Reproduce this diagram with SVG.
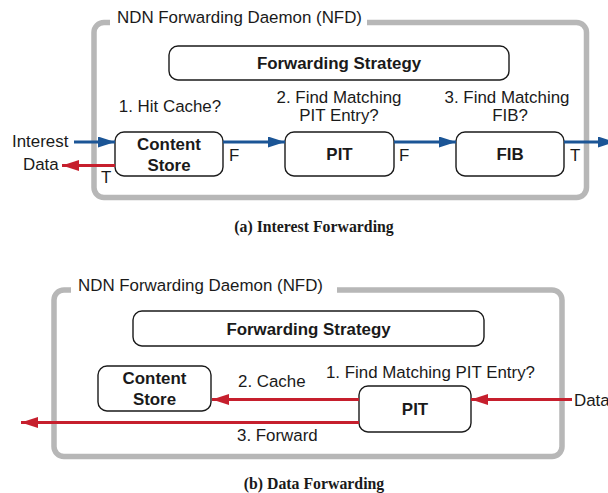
<svg xmlns="http://www.w3.org/2000/svg" width="608" height="493" viewBox="0 0 608 493">
<style>
.frame{fill:none;stroke:#b7b7b7;stroke-width:5.5;stroke-linejoin:round}
.node{fill:#fff;stroke:#1a1a1a;stroke-width:1.4}
.t{font-family:"Liberation Sans",Arial,sans-serif;font-size:16.9px;fill:#1a1a1a}
.b{font-weight:bold}
.m{text-anchor:middle}
.cap{font-family:"Liberation Serif","Times New Roman",serif;font-weight:bold;font-size:15.8px;fill:#1a1a1a;text-anchor:middle}
.blue{stroke:#1b5596;stroke-width:3;fill:none}
.red{stroke:#c61f2d;stroke-width:3;fill:none}
</style>
<defs>
<marker id="ab" markerUnits="userSpaceOnUse" markerWidth="17" markerHeight="11" refX="17" refY="5.5" orient="auto"><path d="M0,0 L17,5.5 L0,11 z" fill="#1b5596"/></marker>
<marker id="ar" markerUnits="userSpaceOnUse" markerWidth="17" markerHeight="11" refX="17" refY="5.5" orient="auto"><path d="M0,0 L17,5.5 L0,11 z" fill="#c61f2d"/></marker>
</defs>
<rect width="608" height="493" fill="#fff"/>

<!-- Panel (a) -->
<g id="nfd-a">
<path class="frame" d="M367,22.5 H576.5 A10,10 0 0 1 586.5,32.5 V187.5 A10,10 0 0 1 576.5,197.5 H104 A10,10 0 0 1 94,187.5 V32.5 A10,10 0 0 1 104,22.5 H110"/>
<text class="t" x="117" y="23">NDN Forwarding Daemon (NFD)</text>
</g>
<g id="strategy-a">
<rect class="node" x="169" y="46" width="340" height="34" rx="9"/>
<text class="t b m" x="339" y="69">Forwarding Strategy</text>
</g>
<g id="cs-a">
<rect class="node" x="115" y="132" width="108" height="44" rx="9"/>
<text class="t b m" x="169" y="150">Content</text>
<text class="t b m" x="169" y="171">Store</text>
</g>
<g id="pit-a">
<rect class="node" x="285" y="132" width="109" height="44" rx="9"/>
<text class="t b m" x="339.5" y="160">PIT</text>
</g>
<g id="fib-a">
<rect class="node" x="456" y="132" width="108" height="44" rx="9"/>
<text class="t b m" x="510" y="160">FIB</text>
</g>
<g id="labels-a">
<text class="t m" x="170" y="112">1. Hit Cache?</text>
<text class="t m" x="339" y="103">2. Find Matching</text>
<text class="t m" x="339" y="121">PIT Entry?</text>
<text class="t m" x="507" y="103">3. Find Matching</text>
<text class="t m" x="510" y="121">FIB?</text>
<text class="t" x="12" y="147">Interest</text>
<text class="t" x="23" y="170">Data</text>
<text class="t" x="101" y="183">T</text>
<text class="t" x="229" y="161">F</text>
<text class="t" x="399" y="161">F</text>
<text class="t" x="570" y="161">T</text>
</g>
<g id="connectors-a">
<line class="blue" x1="74" y1="142" x2="115" y2="142" marker-end="url(#ab)"/>
<line class="red" x1="115" y1="165.5" x2="62" y2="165.5" marker-end="url(#ar)"/>
<line class="blue" x1="223" y1="142" x2="285" y2="142" marker-end="url(#ab)"/>
<line class="blue" x1="394" y1="142" x2="456" y2="142" marker-end="url(#ab)"/>
<line class="blue" x1="564" y1="142" x2="615" y2="142" marker-end="url(#ab)"/>
</g>
<text class="cap" x="314" y="232">(a) Interest Forwarding</text>

<!-- Panel (b) -->
<g id="nfd-b">
<path class="frame" d="M337,290 H552 A10,10 0 0 1 562,300 V446.5 A10,10 0 0 1 552,456.5 H64 A10,10 0 0 1 54,446.5 V300 A10,10 0 0 1 64,290 H71"/>
<text class="t" x="78" y="291">NDN Forwarding Daemon (NFD)</text>
</g>
<g id="strategy-b">
<rect class="node" x="133" y="311" width="351" height="35" rx="9"/>
<text class="t b m" x="308.5" y="335">Forwarding Strategy</text>
</g>
<g id="cs-b">
<rect class="node" x="98" y="366" width="113" height="45" rx="9"/>
<text class="t b m" x="154.5" y="384">Content</text>
<text class="t b m" x="154.5" y="405">Store</text>
</g>
<g id="pit-b">
<rect class="node" x="359" y="386" width="112" height="46" rx="9"/>
<text class="t b m" x="415" y="415">PIT</text>
</g>
<g id="labels-b">
<text class="t m" x="430.5" y="378">1. Find Matching PIT Entry?</text>
<text class="t" x="238" y="387">2. Cache</text>
<text class="t" x="237" y="441">3. Forward</text>
<text class="t" x="574" y="406">Data</text>
</g>
<g id="connectors-b">
<line class="red" x1="572" y1="399.5" x2="471" y2="399.5" marker-end="url(#ar)"/>
<line class="red" x1="359" y1="399.5" x2="212" y2="399.5" marker-end="url(#ar)"/>
<line class="red" x1="359" y1="422.5" x2="21" y2="422.5" marker-end="url(#ar)"/>
</g>
<text class="cap" x="314" y="489">(b) Data Forwarding</text>
</svg>
